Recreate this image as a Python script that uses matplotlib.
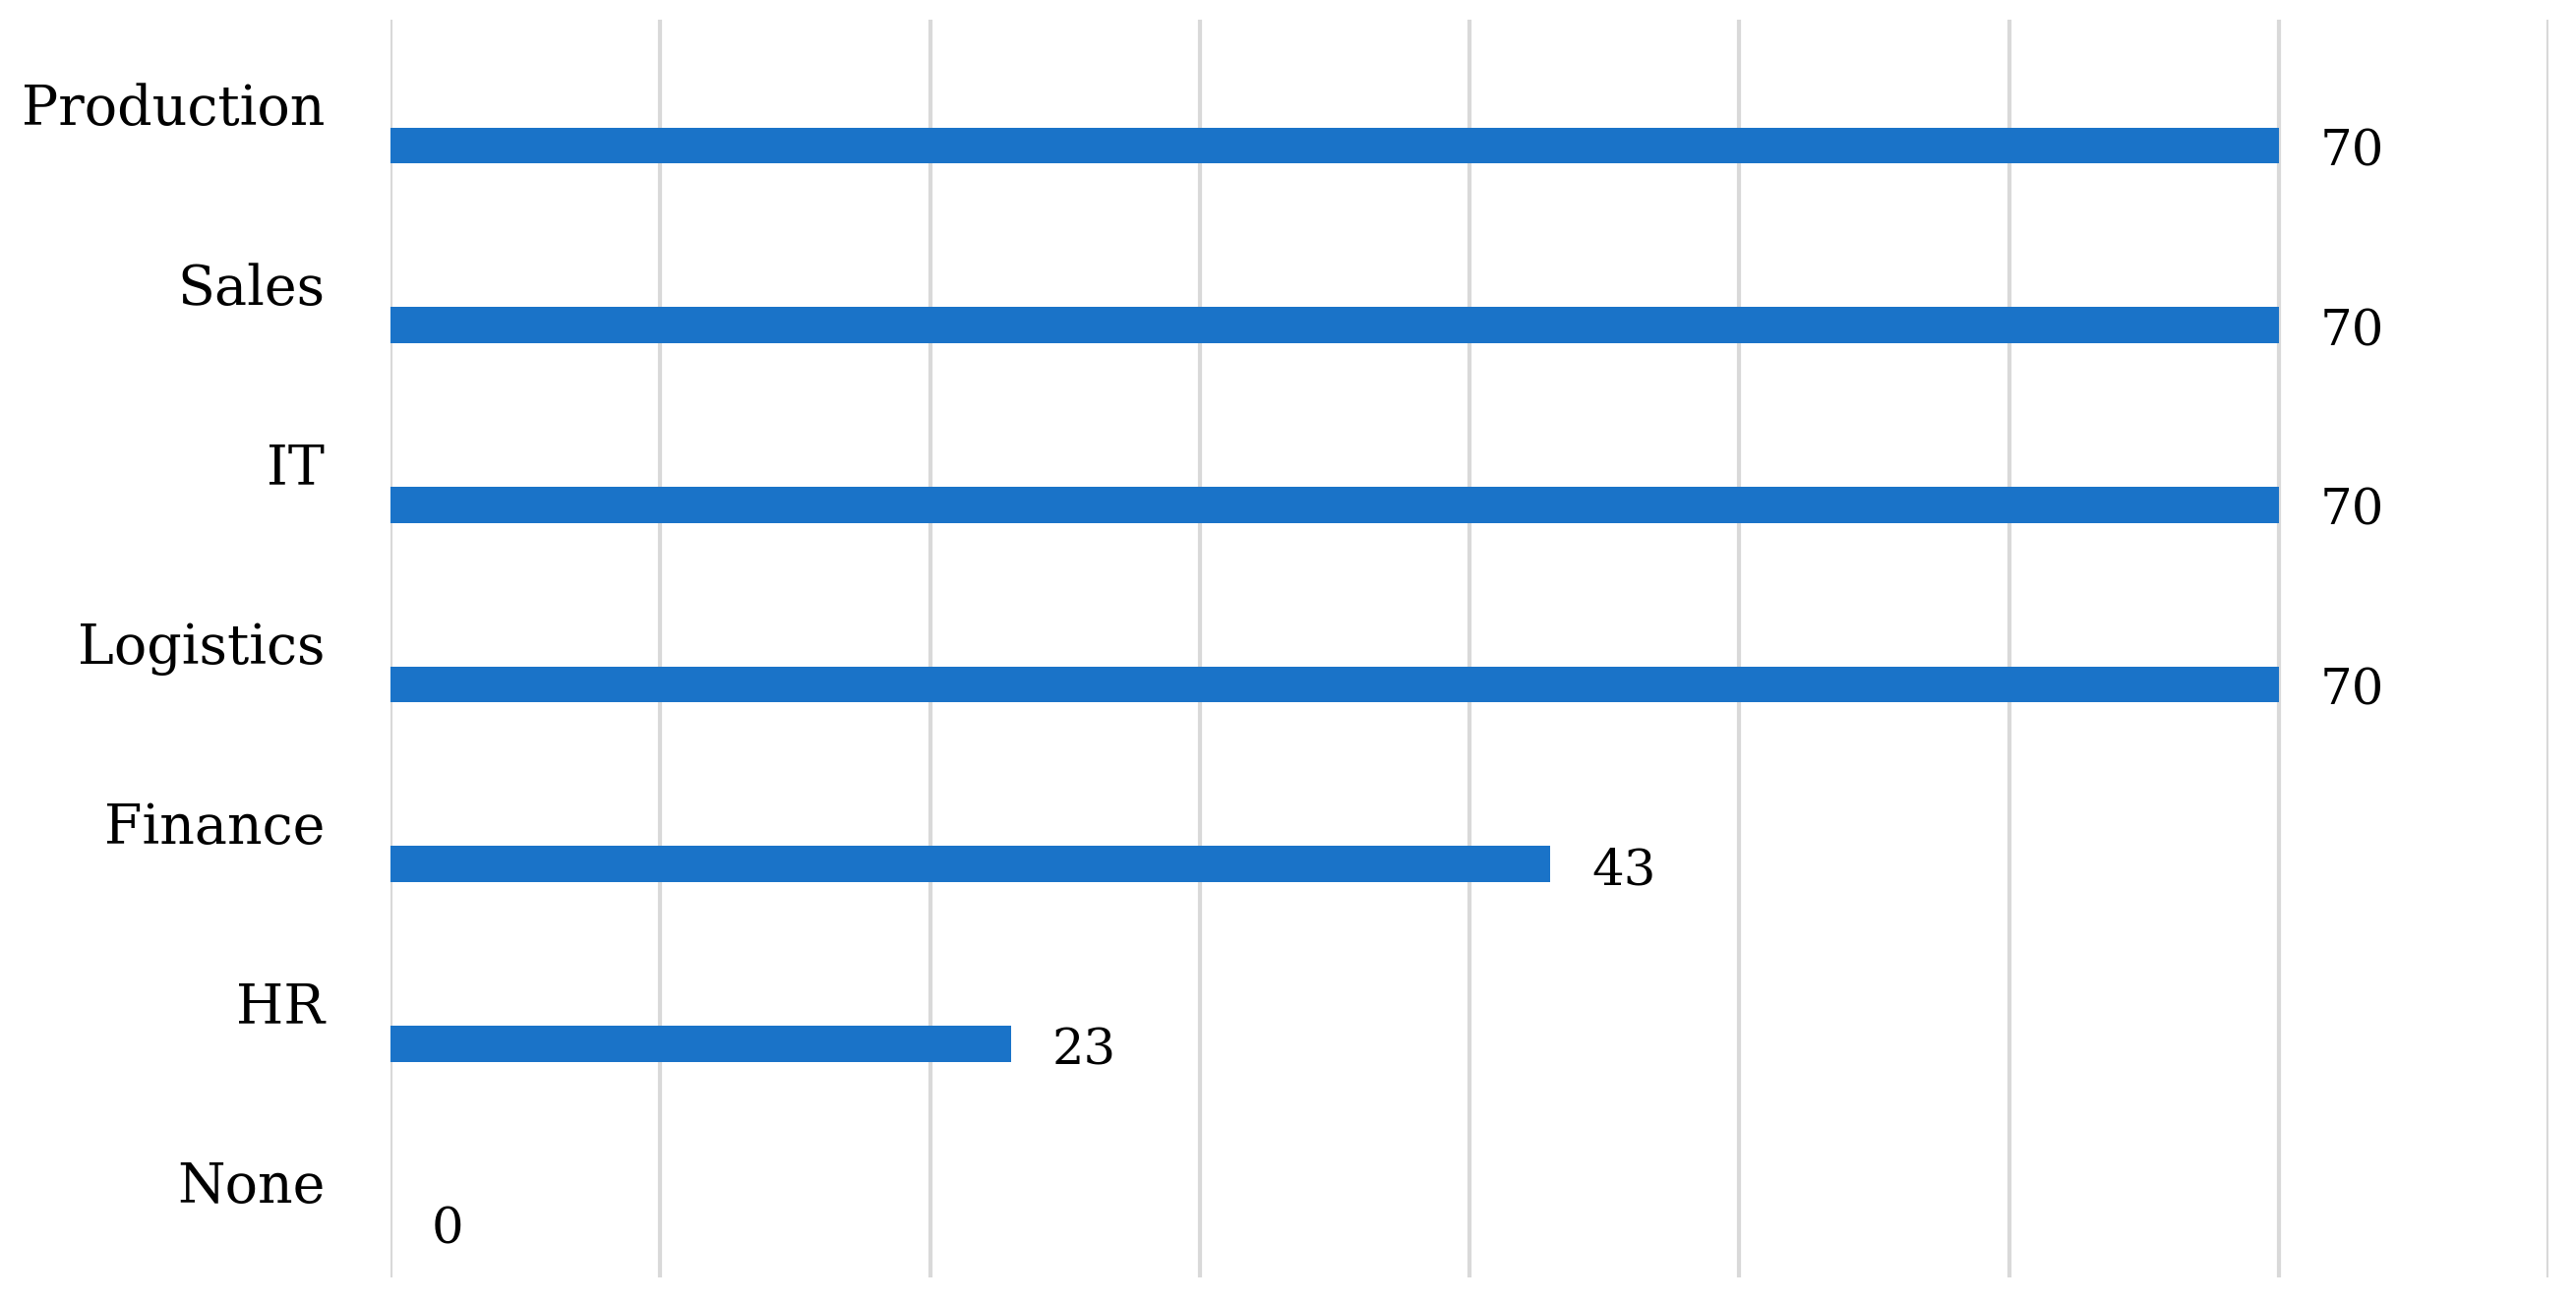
import matplotlib
matplotlib.use("Agg")
import matplotlib.pyplot as plt
import matplotlib.transforms as mtransforms
import numpy as np

categories = ["None", "HR", "Finance", "Logistics", "IT", "Sales", "Production"]
values = [0, 23, 43, 70, 70, 70, 70]
x_ticks = [0, 10, 20, 30, 40, 50, 60, 70, 80]

plt.rcParams['font.family'] = ['DejaVu Serif']

fig = plt.figure(figsize=(26.19, 13.25), dpi=100)
ax = fig.add_axes([397/2619, 1 - 1299/1325, (2591-397)/2619, (1299-20)/1325])

pos = np.arange(len(categories))
bar_color = '#1A73C8'
ax.barh(pos - 0.2, values, height=0.2, color=bar_color, zorder=3)

for p, v in zip(pos, values):
    ax.annotate(str(v), xy=(v, p - 0.2), xytext=(30, -5), textcoords='offset points',
                ha='left', va='center', fontsize=37, color='black')

ax.set_xlim(0, 80)
ax.set_ylim(-0.5, len(categories) - 0.5)
ax.set_xticks(x_ticks)
ax.set_xticklabels([])
ax.set_yticks(pos)
ax.set_yticklabels(categories, fontsize=40)
ax.tick_params(axis='y', length=0, pad=48)
ax.tick_params(axis='x', length=0)
ax.grid(axis='x', color='#D9D9D9', linewidth=3, zorder=0)
ax.grid(axis='y', visible=False)
for s in ax.spines.values():
    s.set_visible(False)

shift = mtransforms.ScaledTranslation(0, 4/72, fig.dpi_scale_trans)
for lbl in ax.get_yticklabels():
    lbl.set_transform(lbl.get_transform() + shift)

fig.savefig("out.png", dpi=100)
